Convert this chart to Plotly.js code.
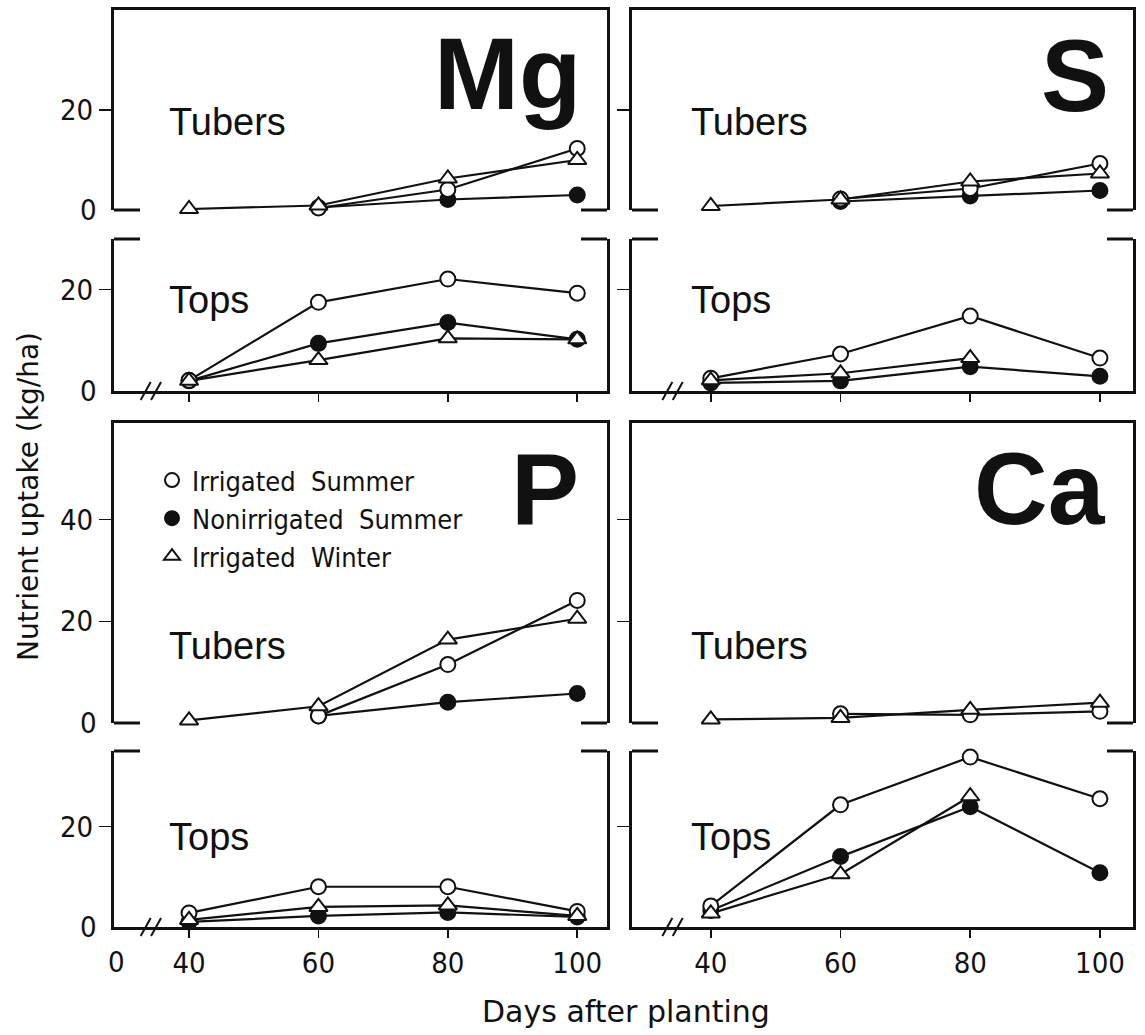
<!DOCTYPE html>
<html>
<head>
<meta charset="utf-8">
<script src="https://cdn.plot.ly/plotly-3.0.1.min.js"></script>
<style>html,body{margin:0;padding:0;background:#fff}</style>
</head>
<body>
<div id="chart" style="width:1145px;height:1035px"></div>
<script>
// Sampling days and their axis labels
const days = [40, 60, 80, 100];
const dayLabels = ['40', '60', '80', '100'];
const breakLabel = '0';

// Treatments
const seriesNames = ['Irrigated\u00a0\u00a0Summer', 'Nonirrigated\u00a0\u00a0Summer', 'Irrigated\u00a0\u00a0Winter'];

// Magnesium uptake (kg/ha)
const mgTubersIrrSummer = [null, 0.4, 4.1, 12.3];
const mgTubersNonSummer = [null, 0.5, 2.1, 3.0];
const mgTubersIrrWinter = [0.2, 0.9, 6.3, 10.0];
const mgTopsIrrSummer = [2.1, 17.5, 22.1, 19.3];
const mgTopsNonSummer = [2.0, 9.4, 13.5, 10.2];
const mgTopsIrrWinter = [2.0, 6.1, 10.4, 10.2];

// Sulfur uptake (kg/ha)
const sTubersIrrSummer = [null, 2.2, 4.3, 9.3];
const sTubersNonSummer = [null, 1.7, 2.8, 3.9];
const sTubersIrrWinter = [0.8, 2.1, 5.7, 7.3];
const sTopsIrrSummer = [2.5, 7.3, 14.8, 6.5];
const sTopsNonSummer = [1.6, 2.0, 4.8, 2.9];
const sTopsIrrWinter = [2.1, 3.5, 6.5, null];

// Phosphorus uptake (kg/ha)
const pTubersIrrSummer = [null, 1.4, 11.5, 24.1];
const pTubersNonSummer = [null, 1.4, 4.1, 5.8];
const pTubersIrrWinter = [0.5, 3.3, 16.4, 20.5];
const pTopsIrrSummer = [2.8, 8.0, 8.0, 3.1];
const pTopsNonSummer = [1.0, 2.2, 2.9, 2.0];
const pTopsIrrWinter = [1.4, 4.0, 4.3, 2.2];

// Calcium uptake (kg/ha)
const caTubersIrrSummer = [null, 1.8, 1.6, 2.3];
const caTubersNonSummer = [null, null, null, null];
const caTubersIrrWinter = [0.7, 1.0, 2.6, 4.0];
const caTopsIrrSummer = [4.2, 24.3, 33.8, 25.5];
const caTopsNonSummer = [3.3, 14.0, 23.9, 10.8];
const caTopsIrrWinter = [2.7, 10.5, 26.0, null];

// ---------- page geometry ----------
const W = 1145, H = 1035;
const px = v => v / W;
const py = v => 1 - v / H;

const cols = {
  left:  {domain: [px(114), px(607)], range: [28.4, 104.6], width: 493},
  right: {domain: [px(632), px(1133)], range: [27.85, 105.1], width: 501}
};
const rows = {
  topTub: {domain: [py(210), py(10)],  range: [0, 40], ticks: [20],     height: 200, kind: 'tub'},
  topTop: {domain: [py(391), py(239)], range: [0, 30], ticks: [20],     height: 152, kind: 'top'},
  botTub: {domain: [py(723), py(423)], range: [0, 59], ticks: [20, 40], height: 300, kind: 'tub'},
  botTop: {domain: [py(927), py(751)], range: [0, 35], ticks: [20],     height: 176, kind: 'top'}
};

const panels = [
  {col: 'left',  row: 'topTub', series: [mgTubersIrrSummer, mgTubersNonSummer, mgTubersIrrWinter], label: 'Tubers', element: 'Mg'},
  {col: 'left',  row: 'topTop', series: [mgTopsIrrSummer, mgTopsNonSummer, mgTopsIrrWinter], label: 'Tops'},
  {col: 'right', row: 'topTub', series: [sTubersIrrSummer, sTubersNonSummer, sTubersIrrWinter], label: 'Tubers', element: 'S'},
  {col: 'right', row: 'topTop', series: [sTopsIrrSummer, sTopsNonSummer, sTopsIrrWinter], label: 'Tops'},
  {col: 'left',  row: 'botTub', series: [pTubersIrrSummer, pTubersNonSummer, pTubersIrrWinter], label: 'Tubers', element: 'P'},
  {col: 'left',  row: 'botTop', series: [pTopsIrrSummer, pTopsNonSummer, pTopsIrrWinter], label: 'Tops'},
  {col: 'right', row: 'botTub', series: [caTubersIrrSummer, caTubersNonSummer, caTubersIrrWinter], label: 'Tubers', element: 'Ca'},
  {col: 'right', row: 'botTop', series: [caTopsIrrSummer, caTopsNonSummer, caTopsIrrWinter], label: 'Tops'}
];

// label placement (pixel centres of capital letters)
const labelY = {topTub: 122, topTop: 300, botTub: 646, botTop: 837};
const labelX = {left: 167, right: 689};
const elementPos = {Mg: [583, 74], S: [1111, 76], P: [581, 490], Ca: [1108, 489]};

const INK = '#111';
const condensed = '"DejaVu Sans Condensed", "DejaVu Sans", sans-serif';
const helv = '"Liberation Sans", Arial, sans-serif';

const markerStyle = [
  {symbol: 'circle', color: '#fff', size: 15},
  {symbol: 'circle', color: INK, size: 15},
  {symbol: 'triangle-up', color: '#fff', size: 16}
];
const drawOrder = [1, 0, 2];

const traces = [];
const layout = {
  width: W, height: H,
  margin: {l: 0, r: 0, t: 0, b: 0},
  paper_bgcolor: '#fff',
  plot_bgcolor: 'rgba(0,0,0,0)',
  showlegend: true,
  legend: {
    x: px(152), y: py(456), xanchor: 'left', yanchor: 'top',
    bgcolor: 'rgba(0,0,0,0)', borderwidth: 0,
    font: {family: condensed, size: 27, color: INK},
    itemwidth: 30, tracegroupgap: 0
  },
  shapes: [],
  annotations: []
};

const stubPx = 26;
const breakDays = [33.3, 34.9];

panels.forEach((p, i) => {
  const n = i + 1;
  const sfx = n === 1 ? '' : String(n);
  const col = cols[p.col], row = rows[p.row];
  const xa = 'x' + sfx, ya = 'y' + sfx;

  layout['xaxis' + sfx] = {
    domain: col.domain, range: col.range, anchor: ya,
    side: row.kind === 'tub' ? 'top' : 'bottom',
    showline: true, linewidth: 3, linecolor: INK,
    ticks: row.kind === 'top' ? 'outside' : '', ticklen: 8, tickwidth: 1.5, tickcolor: INK,
    tickmode: 'array', tickvals: days, ticktext: dayLabels,
    showticklabels: p.row === 'botTop',
    tickfont: {family: condensed, size: 29, color: INK},
    showgrid: false, zeroline: false, fixedrange: true
  };
  layout['yaxis' + sfx] = {
    domain: row.domain, range: row.range, anchor: xa,
    showline: true, mirror: true, linewidth: 3, linecolor: INK,
    ticks: 'outside', ticklen: 12, tickwidth: 1.5, tickcolor: INK,
    tickmode: 'array', tickvals: row.ticks, ticktext: row.ticks.map(String),
    showticklabels: p.col === 'left',
    tickfont: {family: condensed, size: 29, color: INK},
    showgrid: false, zeroline: false, fixedrange: true
  };

  // connecting lines first, markers on top
  drawOrder.forEach(k => {
    traces.push({
      x: days, y: p.series[k], xaxis: xa, yaxis: ya,
      mode: 'lines', line: {color: INK, width: 2.2},
      showlegend: false, hoverinfo: 'skip', cliponaxis: false
    });
  });
  drawOrder.forEach(k => {
    const m = markerStyle[k];
    traces.push({
      x: days, y: p.series[k], xaxis: xa, yaxis: ya,
      mode: 'markers', name: seriesNames[k],
      marker: {symbol: m.symbol, size: m.size, color: m.color, line: {color: INK, width: 2}},
      showlegend: false, hoverinfo: 'skip', cliponaxis: false
    });
  });

  // bracket stubs where the two sub-panels face each other
  const s = stubPx / col.width;
  const edgeY = row.kind === 'tub' ? 0 : 1;
  [[0, s], [1 - s, 1]].forEach(([a, b]) => {
    layout.shapes.push({
      type: 'line', xref: xa + ' domain', yref: ya + ' domain',
      x0: a, x1: b, y0: edgeY, y1: edgeY,
      line: {color: INK, width: 3}
    });
  });

  // axis break marks on the day axis
  if (row.kind === 'top') {
    const dx = 5 / (col.width / (col.range[1] - col.range[0]));
    const dy = 9 / row.height;
    breakDays.forEach(b => {
      layout.shapes.push({
        type: 'line', xref: xa, yref: ya + ' domain',
        x0: b - dx, x1: b + dx, y0: -dy, y1: dy,
        line: {color: INK, width: 2}
      });
    });
  }

  // panel label
  layout.annotations.push({
    xref: 'paper', yref: 'paper', x: px(labelX[p.col]), y: py(labelY[p.row]),
    xanchor: 'left', yanchor: 'middle', showarrow: false,
    text: p.label, font: {family: helv, size: 38, color: INK}
  });

  // element symbol
  if (p.element) {
    const [ex, ey] = elementPos[p.element];
    layout.annotations.push({
      xref: 'paper', yref: 'paper', x: px(ex), y: py(ey),
      xanchor: 'right', yanchor: 'middle', showarrow: false,
      text: p.element, font: {family: helv, size: 102, color: INK, weight: 900}
    });
  }

  // zero label on the y axis of the left column
  if (p.col === 'left') {
    layout.annotations.push({
      xref: 'paper', yref: ya + ' domain', x: px(99), y: 0,
      xanchor: 'right', yanchor: 'middle', showarrow: false,
      text: '0', font: {family: condensed, size: 29, color: INK}
    });
  }
});

// broken-axis origin label
layout.annotations.push({
  xref: 'paper', yref: 'paper', x: px(116), y: py(962),
  xanchor: 'center', yanchor: 'middle', showarrow: false,
  text: breakLabel, font: {family: condensed, size: 29, color: INK}
});

// axis titles
layout.annotations.push({
  xref: 'paper', yref: 'paper', x: px(28), y: py(497),
  xanchor: 'center', yanchor: 'middle', showarrow: false, textangle: -90,
  text: 'Nutrient uptake (kg/ha)', font: {family: '"DejaVu Sans", sans-serif', size: 28, color: INK}
});
layout.annotations.push({
  xref: 'paper', yref: 'paper', x: px(626), y: py(1011),
  xanchor: 'center', yanchor: 'middle', showarrow: false,
  text: 'Days after planting', font: {family: '"DejaVu Sans", sans-serif', size: 30, color: INK}
});

// legend entries
markerStyle.forEach((m, k) => {
  traces.push({
    x: [null], y: [null], xaxis: 'x5', yaxis: 'y5',
    mode: 'markers', name: seriesNames[k], showlegend: true,
    marker: {symbol: m.symbol, size: 14, color: m.color, line: {color: INK, width: 2}}
  });
});

Plotly.newPlot('chart', traces, layout, {staticPlot: true, displayModeBar: false});
</script>
</body>
</html>
